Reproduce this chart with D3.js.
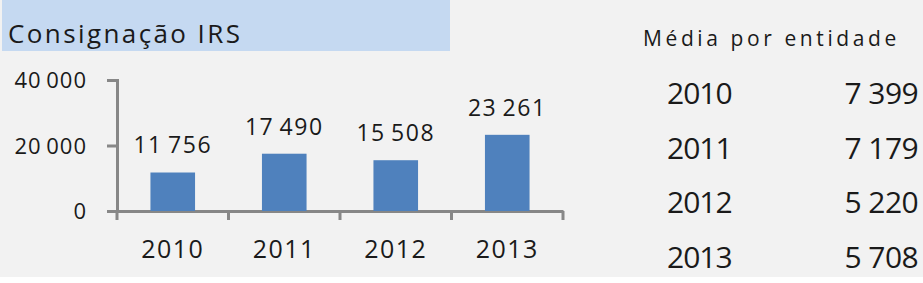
<!DOCTYPE html>
<html>
<head>
<meta charset="utf-8">
<script src="https://cdn.jsdelivr.net/npm/d3@7"></script>
<style>
  html,body{margin:0;padding:0;background:#fff;}
  svg{display:block;}
  svg text{font-family:"Open Sans","Liberation Sans",sans-serif;}
</style>
</head>
<body>
<div id="chart"></div>
<script>
const years = ['2010','2011','2012','2013'];
const totals = [11756, 17490, 15508, 23261];
const avgPerEntity = [7399, 7179, 5220, 5708];
const yTicks = [0, 20000, 40000];

const W = 923, H = 283;
const ink = '#1a1a1a';
const fmt = v => d3.format(',')(v).replace(/,/g, '\u2009');

const svg = d3.select('#chart').append('svg').attr('width', W).attr('height', H);

// panel background + title bar
svg.append('rect').attr('width', W).attr('height', 277).attr('fill', '#f2f2f2');
svg.append('rect').attr('x', 2).attr('y', 0).attr('width', 448).attr('height', 51).attr('fill', '#c5d9f1');
svg.append('text').attr('x', 8).attr('y', 43).attr('font-size', 26).attr('letter-spacing', 2.4)
  .attr('fill', ink).text('Consignação IRS');

// bar chart
const x = d3.scaleBand().domain(years).range([117, 563]).paddingInner(0.6).paddingOuter(0.3);
const y = d3.scaleLinear().domain([0, 40000]).range([211, 80]);

const yAxis = svg.append('g').attr('transform', 'translate(117,0)')
  .call(d3.axisLeft(y).tickValues(yTicks).tickSize(10).tickPadding(20).tickFormat(fmt));
yAxis.selectAll('text').attr('font-size', 22).attr('letter-spacing', 1).attr('fill', ink)
  .attr('dy', '0.36em');

const xAxis = svg.append('g').attr('transform', 'translate(0,211)')
  .call(d3.axisBottom(x).tickSize(0).tickPadding(29));
xAxis.selectAll('text').attr('font-size', 25).attr('letter-spacing', 1.5).attr('fill', ink);
// category boundary ticks
const xb = d3.scaleLinear().domain([0, years.length]).range([117, 563]);
xAxis.selectAll('.bound').data(d3.range(years.length + 1)).join('line').attr('class', 'bound')
  .attr('x1', d => xb(d)).attr('x2', d => xb(d)).attr('y1', 0).attr('y2', 9);

[yAxis, xAxis].forEach(a => {
  a.selectAll('path, line').attr('stroke', '#878787').attr('stroke-width', 3);
});

svg.append('g').selectAll('rect').data(totals).join('rect')
  .attr('x', (d, i) => x(years[i])).attr('width', x.bandwidth())
  .attr('y', d => y(d)).attr('height', d => y(0) - y(d))
  .attr('fill', '#4f81bd');

svg.append('g').selectAll('text').data(totals).join('text')
  .attr('x', (d, i) => x(years[i]) + x.bandwidth() / 2)
  .attr('y', d => y(d) - 19)
  .attr('text-anchor', 'middle').attr('font-size', 23).attr('letter-spacing', 1.5).attr('fill', ink)
  .text(fmt);

// side table
svg.append('text').attr('x', 643).attr('y', 46).attr('font-size', 21)
  .attr('letter-spacing', 3.6).attr('fill', ink).text('Média por entidade');

const rowY = d3.scalePoint().domain(years).range([104, 268]);
const rows = svg.append('g').selectAll('g').data(years).join('g')
  .attr('transform', d => `translate(0,${rowY(d)})`);
rows.append('text').attr('x', 667).attr('font-size', 30).attr('letter-spacing', -1).attr('fill', ink).text(d => d);
rows.append('text').attr('x', 918).attr('text-anchor', 'end').attr('font-size', 30).attr('letter-spacing', -0.6).attr('fill', ink)
  .text((d, i) => fmt(avgPerEntity[i]).replace('\u2009', ' '));
</script>
</body>
</html>
